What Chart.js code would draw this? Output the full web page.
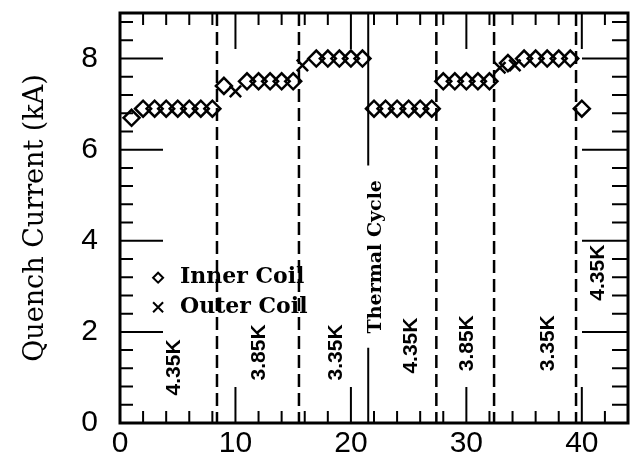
<!DOCTYPE html>
<html>
<head>
<meta charset="utf-8">
<script src="https://cdn.jsdelivr.net/npm/chart.js@4"></script>
<style>
  body { margin: 0; background: #fff; }
</style>
</head>
<body>
<canvas id="quench" width="630" height="465"></canvas>
<script>
// quench history
const xTicks = [0, 10, 20, 30, 40];
const yTicks = [0, 2, 4, 6, 8];

const innerX = [1, 2, 3, 4, 5, 6, 7, 8, 9, 11, 12, 13, 14, 15, 17, 18, 19, 20, 21,
  22, 23, 24, 25, 26, 27, 28, 29, 30, 31, 32, 33.6, 35, 36, 37, 38, 39, 40];
const innerY = [6.7, 6.9, 6.9, 6.9, 6.9, 6.9, 6.9, 6.9, 7.4, 7.5, 7.5, 7.5, 7.5, 7.5, 8.0, 8.0, 8.0, 8.0, 8.0,
  6.9, 6.9, 6.9, 6.9, 6.9, 6.9, 7.5, 7.5, 7.5, 7.5, 7.5, 7.9, 8.0, 8.0, 8.0, 8.0, 8.0, 6.9];

const outerX = [10, 15.8, 32.9, 34.2];
const outerY = [7.28, 7.85, 7.8, 7.85];

// dashed separators between temperature runs, and the thermal cycle mark
const dashX = [8.4, 15.5, 27.4, 32.4, 39.5];
const thermalX = 21.5;

const tempLabels = ['4.35K', '3.85K', '3.35K', '4.35K', '3.85K', '3.35K', '4.35K'];
const tempX = [4.7, 12.1, 18.7, 25.2, 30.1, 37.1, 41.4];
const tempY = [1.22, 1.55, 1.55, 1.7, 1.75, 1.75, 3.3];

const legendLabels = ['Inner Coil', 'Outer Coil'];

const toPts = (xs, ys) => xs.map((x, i) => ({ x, y: ys[i] }));

const frame = {
  id: 'frame',
  beforeDatasetsDraw(chart) {
    const { ctx, chartArea: a, scales: { x, y } } = chart;
    ctx.save();
    ctx.strokeStyle = '#000';
    // dashed separators
    ctx.lineWidth = 2.5;
    ctx.setLineDash([13, 6]);
    dashX.forEach(v => {
      const px = x.getPixelForValue(v);
      ctx.beginPath();
      ctx.moveTo(px, a.top);
      ctx.lineTo(px, a.bottom);
      ctx.stroke();
    });
    ctx.setLineDash([]);
    // thermal cycle line, broken where the text sits
    const tx = x.getPixelForValue(thermalX);
    ctx.lineWidth = 2;
    ctx.beginPath();
    ctx.moveTo(tx, a.top);
    ctx.lineTo(tx, y.getPixelForValue(5.65));
    ctx.moveTo(tx, y.getPixelForValue(1.65));
    ctx.lineTo(tx, a.bottom);
    ctx.stroke();
    ctx.restore();
  },
  afterDraw(chart) {
    const { ctx, chartArea: a, scales: { x, y } } = chart;
    ctx.save();
    ctx.strokeStyle = '#000';
    ctx.fillStyle = '#000';

    // inward ticks on all four sides
    ctx.lineWidth = 2;
    for (let v = 2; v < 44; v += 2) {
      const px = x.getPixelForValue(v);
      const len = v % 10 === 0 ? 36 : 12;
      ctx.beginPath();
      ctx.moveTo(px, a.bottom); ctx.lineTo(px, a.bottom - len);
      ctx.moveTo(px, a.top); ctx.lineTo(px, a.top + len);
      ctx.stroke();
    }
    for (let i = 1; i < 23; i++) {
      const v = i * 0.4;
      const py = y.getPixelForValue(v);
      const big = i % 5 === 0;
      ctx.beginPath();
      ctx.moveTo(a.left, py); ctx.lineTo(a.left + (big ? 43 : 13), py);
      ctx.moveTo(a.right, py); ctx.lineTo(a.right - (big ? 46 : 16), py);
      ctx.stroke();
    }

    // frame
    ctx.lineWidth = 3;
    ctx.strokeRect(a.left, a.top, a.right - a.left, a.bottom - a.top);

    // x tick labels
    ctx.textAlign = 'center';
    ctx.textBaseline = 'middle';
    ctx.font = '30px "Liberation Sans", sans-serif';
    xTicks.forEach(v => ctx.fillText(String(v), x.getPixelForValue(v), a.bottom + 21));

    // temperature labels
    ctx.font = 'bold 21px "Liberation Sans Narrow", "Liberation Sans", sans-serif';
    tempLabels.forEach((t, i) => {
      ctx.save();
      ctx.translate(x.getPixelForValue(tempX[i]), y.getPixelForValue(tempY[i]));
      ctx.rotate(-Math.PI / 2);
      ctx.fillText(t, 0, 0);
      ctx.restore();
    });

    // thermal cycle text
    ctx.save();
    ctx.font = 'bold 19px "DejaVu Serif", serif';
    ctx.translate(x.getPixelForValue(22.2), y.getPixelForValue(3.65));
    ctx.rotate(-Math.PI / 2);
    ctx.fillText('Thermal Cycle', 0, 0);
    ctx.restore();

    // legend
    const lx = x.getPixelForValue(3.3);
    const ly1 = y.getPixelForValue(3.19);
    const ly2 = y.getPixelForValue(2.54);
    ctx.lineWidth = 2;
    ctx.beginPath();
    ctx.moveTo(lx, ly1 - 5); ctx.lineTo(lx + 5, ly1);
    ctx.lineTo(lx, ly1 + 5); ctx.lineTo(lx - 5, ly1); ctx.closePath();
    ctx.stroke();
    ctx.beginPath();
    ctx.moveTo(lx - 5, ly2 - 5); ctx.lineTo(lx + 5, ly2 + 5);
    ctx.moveTo(lx + 5, ly2 - 5); ctx.lineTo(lx - 5, ly2 + 5);
    ctx.stroke();
    ctx.textAlign = 'left';
    ctx.font = 'bold 22px "DejaVu Serif", serif';
    ctx.fillText(legendLabels[0], x.getPixelForValue(5.2), ly1);
    ctx.fillText(legendLabels[1], x.getPixelForValue(5.2), ly2);

    ctx.restore();
  }
};

new Chart(document.getElementById('quench'), {
  type: 'scatter',
  data: {
    datasets: [
      {
        label: legendLabels[0],
        data: toPts(innerX, innerY),
        pointStyle: 'rectRot',
        radius: 8,
        borderWidth: 2.5,
        borderColor: '#000',
        backgroundColor: 'rgba(0,0,0,0)'
      },
      {
        label: legendLabels[1],
        data: toPts(outerX, outerY),
        pointStyle: 'crossRot',
        radius: 8,
        borderWidth: 2.5,
        borderColor: '#000',
        backgroundColor: '#000'
      }
    ]
  },
  options: {
    responsive: false,
    animation: false,
    devicePixelRatio: 1,
    layout: { autoPadding: false, padding: { top: 13, right: 2, left: 0, bottom: 0 } },
    plugins: { legend: { display: false }, tooltip: { enabled: false } },
    scales: {
      x: {
        type: 'linear',
        min: 0,
        max: 44,
        afterBuildTicks: s => { s.ticks = xTicks.map(v => ({ value: v })); },
        afterFit: s => { s.height = 42; },
        grid: { display: false, drawTicks: false },
        border: { display: false },
        ticks: { display: false }
      },
      y: {
        min: 0,
        max: 9,
        afterBuildTicks: s => { s.ticks = yTicks.map(v => ({ value: v })); },
        afterFit: s => { s.width = 120; s.paddingTop = 0; s.paddingBottom = 0; },
        grid: { display: false, drawTicks: false },
        border: { display: false },
        ticks: {
          color: '#000',
          padding: 22,
          font: { family: '"Liberation Sans", sans-serif', size: 30 }
        },
        title: {
          display: true,
          text: 'Quench Current (kA)',
          color: '#000',
          padding: { top: 20, bottom: 0 },
          font: { family: '"DejaVu Serif", serif', size: 27 }
        }
      }
    }
  },
  plugins: [frame]
});
</script>
</body>
</html>
